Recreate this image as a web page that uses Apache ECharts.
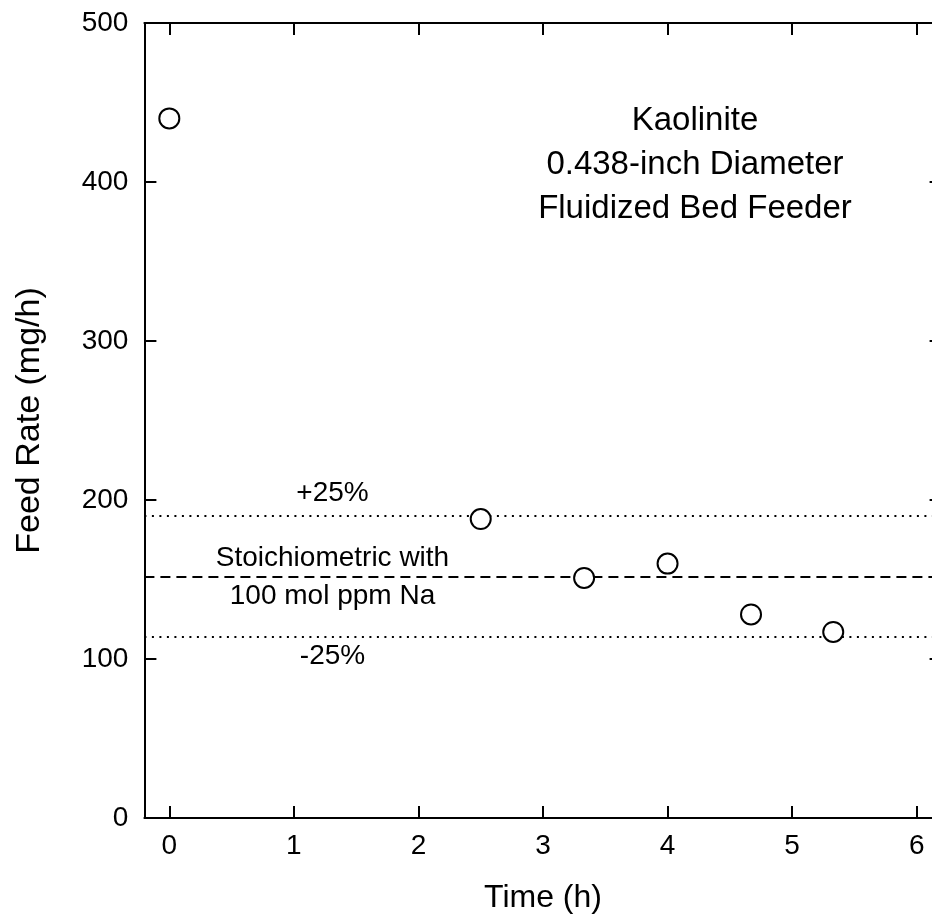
<!DOCTYPE html>
<html>
<head>
<meta charset="utf-8">
<script src="https://cdn.jsdelivr.net/npm/echarts@6/dist/echarts.min.js"></script>
<style>
html,body{margin:0;padding:0;background:#fff;overflow:hidden;width:932px;height:921px;}
#chart{width:946px;height:921px;}
</style>
</head>
<body>
<div id="chart"></div>
<script>
// ---- data ----
const timeH = [0, 2.5, 3.33, 4.0, 4.67, 5.33];
const feedRate = [440, 188, 151, 160, 128, 117];
const stoichLevel = 152;
const plus25Level = 190;
const minus25Level = 114;
const xTicks = [0, 1, 2, 3, 4, 5, 6];
const yTicks = [0, 100, 200, 300, 400, 500];

const FONT = '"Liberation Sans", Arial, Helvetica, sans-serif';
const chart = echarts.init(document.getElementById('chart'), null, {renderer: 'canvas'});

const axisLine = {show: true, onZero: false, lineStyle: {color: '#000', width: 2}};
const axisTick = {show: true, inside: true, length: 12, lineStyle: {color: '#000', width: 2}};

const points = timeH.map((t, i) => [t, feedRate[i]]);

function textSeries(name, pos, text, fontSize, lineHeight) {
  return {
    type: 'scatter', name: name, xAxisIndex: 0, yAxisIndex: 0,
    symbolSize: 0, silent: true, z: 5,
    itemStyle: {opacity: 1},
    data: [pos],
    label: {
      show: true, position: 'inside', formatter: text, opacity: 1,
      fontFamily: FONT, fontSize: fontSize, lineHeight: lineHeight,
      color: '#000', align: 'center', verticalAlign: 'middle'
    }
  };
}

const option = {
  backgroundColor: '#fff',
  animation: false,
  grid: {left: 144.4, top: 23, width: 797.2, height: 795, containLabel: false},
  xAxis: [{
    type: 'value', min: -0.2, max: 6.2, position: 'bottom',
    name: 'Time (h)', nameLocation: 'middle', nameGap: 64,
    nameTextStyle: {fontFamily: FONT, fontSize: 32, color: '#000'},
    axisLine: axisLine,
    axisTick: Object.assign({}, axisTick, {customValues: xTicks}),
    axisLabel: {customValues: xTicks, fontFamily: FONT, fontSize: 28, color: '#000', margin: 14},
    splitLine: {show: false}
  }, {
    type: 'value', min: -0.2, max: 6.2, position: 'top',
    axisLine: axisLine,
    axisTick: Object.assign({}, axisTick, {customValues: xTicks}),
    axisLabel: {show: false, customValues: xTicks},
    splitLine: {show: false}
  }],
  yAxis: [{
    type: 'value', min: 0, max: 500, interval: 100, position: 'left',
    name: 'Feed Rate (mg/h)', nameLocation: 'middle', nameGap: 98, nameRotate: 90,
    nameTextStyle: {fontFamily: FONT, fontSize: 34, color: '#000'},
    axisLine: axisLine, axisTick: axisTick,
    axisLabel: {fontFamily: FONT, fontSize: 28, color: '#000', margin: 16},
    splitLine: {show: false}
  }, {
    type: 'value', min: 0, max: 500, interval: 100, position: 'right',
    axisLine: axisLine, axisTick: axisTick,
    axisLabel: {show: false},
    splitLine: {show: false}
  }],
  series: [
    {
      type: 'scatter', name: 'Feed rate', xAxisIndex: 0, yAxisIndex: 0,
      data: points, symbol: 'circle', symbolSize: 20, z: 10,
      itemStyle: {color: '#fff', borderColor: '#000', borderWidth: 2, opacity: 1},
      markLine: {
        silent: true, symbol: ['none', 'none'], label: {show: false}, z: 3,
        data: [
          {yAxis: plus25Level, lineStyle: {type: [2, 5.5], color: '#000', width: 2, opacity: 1}},
          {yAxis: stoichLevel, lineStyle: {type: [10, 6], color: '#000', width: 1.8, opacity: 1}},
          {yAxis: minus25Level, lineStyle: {type: [2, 5.5], color: '#000', width: 2, opacity: 1}}
        ]
      }
    },
    textSeries('title', [4.22, 411], 'Kaolinite\n0.438-inch Diameter\nFluidized Bed Feeder', 33, 44),
    textSeries('plus', [1.31, 204.5], '+25%', 28, 32),
    textSeries('stoich', [1.31, 151.7], 'Stoichiometric with\n100 mol ppm Na', 28, 38),
    textSeries('minus', [1.31, 101.4], '-25%', 28, 32)
  ]
};
chart.setOption(option);
</script>
</body>
</html>
